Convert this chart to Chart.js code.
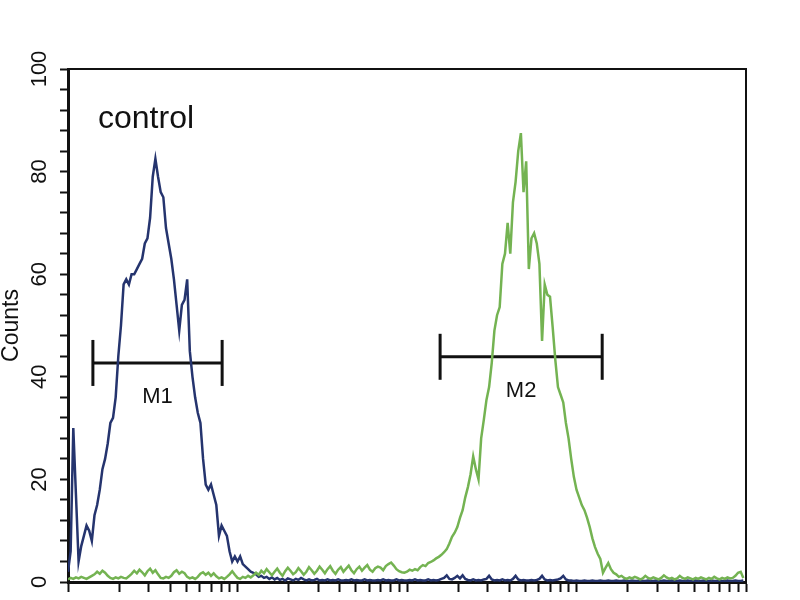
<!DOCTYPE html>
<html>
<head>
<meta charset="utf-8">
<script src="https://cdn.jsdelivr.net/npm/chart.js@4.4.1/dist/chart.umd.min.js"></script>
<style>
  body { margin: 0; background: #fff; }
  canvas { display: block; }
</style>
</head>
<body>
<canvas id="histo" width="800" height="600"></canvas>
<script>
// counts per channel (256 channels, 4 log decades)
const blueCounts = [
    2, 6, 30, 17, 4, 7, 9, 11, 10, 8,
    13, 15, 18, 22, 24, 27, 31, 32, 36, 44,
    50, 58, 59, 58, 60, 60, 61, 62, 63, 66,
    67, 71, 79, 82.5, 79, 76, 75, 69, 66, 63,
    59, 54, 49, 54, 55, 59, 45, 40, 36, 33,
    31, 24, 19, 18, 19, 17, 15, 9, 11, 10,
    9, 6, 4, 5, 4, 5, 3.5, 3, 2.5, 2,
    1.8, 1.5, 1, 1.2, 0.8, 1, 0.6, 0.9, 0.5, 0.8,
    0.4, 0.6, 0.3, 0.7, 0.5, 0.3, 0.6, 0.4, 0.8, 0.5,
    0.3, 0.5, 0.3, 0.4, 0.6, 0.3, 0.4, 0.3, 0.5, 0.3,
    0.4, 0.3, 0.5, 0.3, 0.3, 0.4, 0.3, 0.5, 0.3, 0.4,
    0.3, 0.3, 0.5, 0.3, 0.4, 0.3, 0.3, 0.4, 0.3, 0.5,
    0.3, 0.4, 0.3, 0.3, 0.5, 0.3, 0.4, 0.3, 0.3, 0.4,
    0.3, 0.5, 0.3, 0.4, 0.3, 0.3, 0.5, 0.3, 0.4, 0.3,
    0.4, 0.6, 0.8, 1.3, 0.6, 0.5, 0.8, 1.2, 0.7, 1.3,
    0.6, 0.4, 0.3, 0.5, 0.3, 0.4, 0.3, 0.5, 0.6, 1.2,
    0.5, 0.3, 0.4, 0.3, 0.5, 0.3, 0.4, 0.3, 0.6, 1.2,
    0.5, 0.3, 0.4, 0.3, 0.3, 0.4, 0.3, 0.4, 0.6, 1.2,
    0.5, 0.3, 0.4, 0.3, 0.4, 0.5, 0.7, 1.2, 0.5, 0.3,
    0.3, 0.2, 0.3, 0.2, 0.2, 0.3, 0.2, 0.2, 0.3, 0.2,
    0.2, 0.3, 0.2, 0.2, 0.3, 0.2, 0.2, 0.3, 0.2, 0.2,
    0.3, 0.2, 0.2, 0.3, 0.2, 0.2, 0.3, 0.2, 0.2, 0.3,
    0.2, 0.2, 0.3, 0.2, 0.2, 0.3, 0.2, 0.2, 0.3, 0.2,
    0.2, 0.3, 0.2, 0.2, 0.3, 0.2, 0.2, 0.3, 0.2, 0.2,
    0.3, 0.2, 0.2, 0.3, 0.2, 0.2, 0.3, 0.2, 0.2, 0.3,
    0.2, 0.2, 0.3, 0.2, 0.2, 0.3
];

const greenCounts = [
    0.5, 0.8, 0.6, 0.9, 0.7, 1, 0.8, 0.6, 0.9, 1.2,
    1.5, 2, 1.6, 2.2, 1.8, 1.2, 0.8, 0.6, 0.9, 0.7,
    1, 0.8, 0.7, 1.1, 1.6, 2.2, 1.7, 2.4, 1.9, 1.3,
    2.1, 2.6, 1.8, 2.3, 1.5, 0.8, 0.7, 1, 0.8, 1.2,
    1.9, 2.3, 1.6, 2, 1.7, 1, 0.7, 0.9, 0.6, 1,
    1.6, 1.9, 1.4, 1.8, 1.2, 1.7, 1.1, 0.7, 0.9, 0.6,
    1, 1.5, 2.1, 1.4, 0.8, 0.6, 1, 0.8, 1.2, 0.9,
    1.3, 1.8, 1.4, 2.2, 1.7, 2.5, 1.9, 1.3, 2, 2.6,
    1.8, 1.2, 2.1, 2.8, 2.2, 1.5, 1.9, 2.7, 2.1, 1.4,
    2, 2.9, 2.3, 1.6, 2.2, 3, 2.4, 1.7, 2.5, 3.1,
    2.2, 1.6, 2.4, 2.9, 2, 2.6, 3.2, 2.3, 1.7, 2.5,
    3, 2.2, 2.8, 3.3, 2.4, 2, 2.7, 3, 2.8, 2.3,
    3.1, 3.5, 3.8, 3.2, 2.5, 2.1, 1.9, 1.8, 2, 2.4,
    2.2, 2.5, 2.3, 2.9, 3.3, 3.1, 3.7, 3.9, 4.2, 4.6,
    4.9, 5.3, 5.8, 6.4, 7.5, 8.8, 9.6, 10.7, 12.5, 14,
    16.5, 18.5, 21, 24.5, 22, 20, 28, 31.6, 35.5, 38,
    42.7, 49, 52, 53.6, 62, 64, 70, 64, 74, 78,
    84, 87.5, 76, 82, 61, 67, 68, 66, 62, 47,
    58, 56, 55.6, 49.7, 43.3, 38, 36.5, 35, 31, 28,
    24, 20.5, 18, 16.5, 15, 14, 12.5, 10.7, 8.5, 6.8,
    5.5, 4.5, 1.8, 2.8, 3.7, 2.5, 1.8, 1.5, 1, 1.2,
    0.8, 0.6, 0.9, 0.7, 1, 0.8, 0.5, 0.7, 1.2, 0.8,
    0.6, 0.9, 0.7, 0.5, 0.8, 1.3, 0.9, 0.6, 0.8, 0.5,
    0.7, 1.2, 0.8, 0.6, 0.9, 0.7, 0.5, 0.8, 0.6, 0.9,
    0.7, 0.5, 0.8, 0.6, 1, 0.7, 0.5, 0.8, 0.6, 0.9,
    0.7, 0.8, 1.2, 1.8, 2, 0.8
];

const channels = blueCounts.map((_, i) => i);

// gate markers: [start channel, end channel], level in counts
const m1Range = [9.4, 58.2];
const m1Level = 42.7;
const m2Range = [140.5, 201.7];
const m2Level = 43.9;

const yTickLabels = [0, 20, 40, 60, 80, 100];

// decade tick marks on the channel axis (64 channels per decade)
const xTickChannels = [];
for (let k = 0; k < 4; k++) {
    for (let n = 1; n < 10; n++) xTickChannels.push(64 * (k + Math.log10(n)));
}
xTickChannels.push(256);

const toPoints = (counts) => counts.map((c, i) => ({x: channels[i], y: c}));

const X_AXIS_H = 18;

const frame = {
    id: 'frame',
    // layout leaves 8px spare under the x axis, pull the plot down to the edge
    afterLayout(chart) {
        const {chartArea: a, scales: {x, y}} = chart;
        const bottom = chart.height - X_AXIS_H;
        a.bottom = bottom;
        a.height = bottom - a.top;
        y.bottom = bottom;
        y.height = bottom - y.top;
        y.configure();
        x.top = bottom;
        x.bottom = bottom + X_AXIS_H;
        x.configure();
    },
    afterDatasetsDraw(chart) {
        const {ctx, chartArea: a, scales: {x, y}} = chart;
        ctx.save();
        ctx.strokeStyle = '#111';
        ctx.lineWidth = 2;
        ctx.beginPath();
        ctx.moveTo(a.left, a.top);
        ctx.lineTo(a.right, a.top);
        ctx.lineTo(a.right, a.bottom);
        ctx.stroke();

        ctx.fillStyle = '#111';
        ctx.font = '32px "Liberation Sans", Arial, sans-serif';
        ctx.textBaseline = 'alphabetic';
        ctx.textAlign = 'left';
        ctx.fillText('control', a.left + 30, a.top + 59);

        ctx.font = '22px "Liberation Sans", Arial, sans-serif';
        ctx.textAlign = 'center';
        ctx.textBaseline = 'middle';
        [['M1', m1Range, m1Level], ['M2', m2Range, m2Level]].forEach(([t, r, lv]) => {
            const cx = (x.getPixelForValue(r[0]) + x.getPixelForValue(r[1])) / 2;
            ctx.fillText(t, cx, y.getPixelForValue(lv) + 34);
        });
        ctx.restore();
    }
};

const marker = (r, lv) => ({
    data: [{x: r[0], y: lv}, {x: r[1], y: lv}],
    borderColor: '#111',
    backgroundColor: '#111',
    borderWidth: 3,
    pointStyle: 'line',
    rotation: 90,
    pointRadius: 23,
    pointBorderWidth: 3,
    showLine: true,
});

new Chart(document.getElementById('histo'), {
    type: 'line',
    data: {
        datasets: [
            {
                data: toPoints(greenCounts),
                borderColor: '#74b352',
                borderWidth: 2.5,
                pointRadius: 0,
                tension: 0,
            },
            {
                data: toPoints(blueCounts),
                borderColor: '#25346e',
                borderWidth: 2.5,
                pointRadius: 0,
                tension: 0,
            },
            marker(m1Range, m1Level),
            marker(m2Range, m2Level),
        ],
    },
    options: {
        responsive: false,
        animation: false,
        events: [],
        layout: {
            padding: {left: 0, right: 54, top: 69, bottom: 0},
        },
        plugins: {
            legend: {display: false},
            tooltip: {enabled: false},
        },
        scales: {
            x: {
                type: 'linear',
                min: 0,
                max: 256,
                afterBuildTicks: (scale) => {
                    scale.ticks = xTickChannels.map(v => ({value: v}));
                },
                afterFit: (scale) => { scale.height = X_AXIS_H; },
                ticks: {display: false},
                grid: {
                    drawOnChartArea: false,
                    drawTicks: true,
                    tickLength: 10,
                    tickWidth: 2,
                    tickColor: '#111',
                },
                border: {display: true, color: '#111', width: 3},
            },
            y: {
                min: 0,
                max: 100,
                afterFit: (scale) => {
                    scale.width = 68;
                    scale.paddingTop = 0;
                    scale.paddingBottom = 0;
                },
                ticks: {
                    stepSize: 4,
                    autoSkip: false,
                    minRotation: 90,
                    maxRotation: 90,
                    crossAlign: 'center',
                    padding: 2,
                    color: '#111',
                    font: {family: '"Liberation Sans", Arial, sans-serif', size: 22},
                    callback: (v) => yTickLabels.includes(v) ? String(v) : '',
                },
                grid: {
                    drawOnChartArea: false,
                    drawTicks: true,
                    tickLength: 8,
                    tickWidth: 2,
                    tickColor: '#111',
                },
                border: {display: true, color: '#111', width: 3},
                title: {
                    display: true,
                    text: 'Counts',
                    color: '#111',
                    padding: 0,
                    font: {family: '"Liberation Sans", Arial, sans-serif', size: 23, lineHeight: 1},
                },
            },
        },
    },
    plugins: [frame],
});
</script>
</body>
</html>
